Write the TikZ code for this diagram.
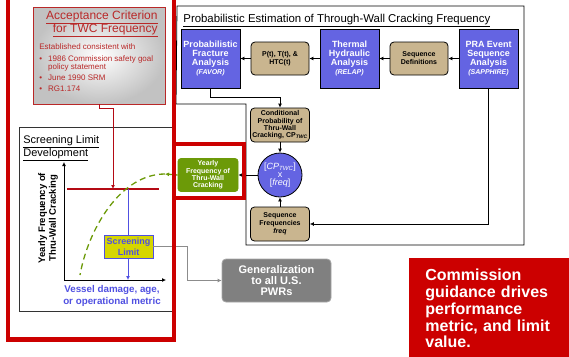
\documentclass[tikz,border=0pt]{standalone}
\usepackage{fontspec}
\setmainfont{Liberation Sans}
\usetikzlibrary{positioning, arrows.meta}
\definecolor{nrcblue}{RGB}{100,100,226}
\definecolor{nrctan}{RGB}{201,181,143}
\definecolor{nrcgreen}{RGB}{108,154,8}
\definecolor{nrcred}{RGB}{204,0,0}
\definecolor{limred}{RGB}{180,10,20}
\definecolor{accred}{RGB}{185,40,40}
\definecolor{limblue}{RGB}{80,80,225}
\definecolor{limyellow}{RGB}{214,214,0}
\definecolor{gengray}{RGB}{128,128,128}
\newcommand{\fs}[2]{\fontsize{#1}{#2}\selectfont}

\begin{document}
\begin{tikzpicture}[x=1pt,y=-1pt,node distance=69.5pt,on grid,line width=0.8pt,
  >={Latex[length=4pt,width=4pt]},
  analysis/.style={draw=black,fill=nrcblue,text=white,minimum width=59pt,minimum height=59pt,
    inner sep=0pt,align=center,font=\bfseries\fs{9}{9}},
  data/.style={draw=black,fill=nrctan,rounded corners=4pt,minimum width=58pt,minimum height=33pt,
    inner sep=0pt,align=center,font=\bfseries\fs{7}{8}},
  frame/.style={nrcred,line width=4.5pt},
  label/.style={inner sep=0pt,align=left}]
\useasboundingbox (0,0) rectangle (569,356);

% outlines
\draw (177,6) -- (524,6) -- (524,245) -- (246,245) -- (246,104) -- (176,104) -- cycle;
\draw[black!80] (19,127) rectangle (174,311);
\node[label,anchor=base west,font=\fs{11.4}{13}] (probtitle) at (183,22.5)
  {\underline{Probabilistic Estimation of Through-Wall Cracking Frequency}};

% top row
\node[analysis] (favor) at (210.5,58.5) {Probabilistic\\Fracture\\Analysis\\{\itshape\fs{7}{10}(FAVOR)}};
\node[data] (ptt) [right=of favor] {P(t), T(t), \&\\HTC(t)};
\node[analysis] (relap) [right=of ptt] {Thermal\\Hydraulic\\Analysis\\{\itshape\fs{7}{10}(RELAP)}};
\node[data] (seqdef) [right=of relap] {Sequence\\Definitions};
\node[analysis] (pra) [right=of seqdef] {PRA Event\\Sequence\\Analysis\\{\itshape\fs{7}{10}(SAPPHIRE)}};

\node[data,minimum width=59pt,minimum height=34pt,font=\bfseries\fs{7}{7.2}] (cond) [below=66.5pt of ptt]
  {Conditional\\Probability of\\Thru-Wall\\Cracking, CP\textsubscript{\itshape TWC}};
\node[circle,draw=black,fill=nrcblue,text=white,minimum size=44pt,inner sep=0pt,align=center,
  font=\fs{9}{8}] (circ) [below=50pt of cond]
  {[\textit{CP}\textsubscript{\itshape TWC}]\\x\\{}[\textit{freq}]};
\node[data,minimum width=59pt,minimum height=34pt] (seqfreq) [below=49pt of circ]
  {Sequence\\Frequencies\\\textit{freq}};
\node[fill=nrcgreen,draw=nrcgreen,rounded corners=3pt,text=white,minimum width=60pt,minimum height=33pt,
  inner sep=0pt,align=center,font=\bfseries\fs{7}{7.4}] (yearly) [left=72pt of circ]
  {Yearly\\Frequency of\\Thru-Wall\\Cracking};

\path[->]
  (pra) edge (seqdef)
  (seqdef) edge (relap)
  (relap) edge (ptt)
  (ptt) edge (favor)
  (cond) edge (circ)
  (seqfreq) edge (circ)
  (circ) edge (yearly);
\draw[->] (favor.south) -- ++(0,9) -| (cond.north);
\draw[->] (pra.south) |- (seqfreq.east);

% acceptance criterion
\node[draw=accred,shading=radial,inner color=white,outer color=black!24,minimum width=132pt,
  minimum height=97pt,inner sep=0pt] (accept) at (99,55.5) {};
\node[label,anchor=north east,align=right,text=accred,font=\fs{12}{13.3}] (acctitle) at (158,10)
  {\underline{Acceptance Criterion}\\\underline{for TWC Frequency}};
\node[label,anchor=north west,text=accred,font=\fs{8}{8}] (basis) at (39,43)
  {\begin{tabular}{@{}l@{\hspace{6pt}}l@{}}
   \multicolumn{2}{@{}l}{Established consistent with}\\[4pt]
   \textbullet & 1986 Commission safety goal\\
               & policy statement\\[3pt]
   \textbullet & June 1990 SRM\\[3pt]
   \textbullet & RG1.174
   \end{tabular}};

% screening limit plot
\node[label,anchor=north west,font=\fs{11}{12}] (scrtitle) at (23,135)
  {\underline{Screening Limit}\\\underline{Development}};
\coordinate (origin) at (64,280);
\coordinate (lim) at (113,189);
\coordinate (limL) at (67,189);
\coordinate (limR) at (159,189);
\coordinate (cross) at (128,189);
\coordinate (ctop) at (165,174);
\coordinate (cbot) at (80,275);
\draw[->] (origin) -- (64,162);
\draw[->] (origin) -- (166,280);
\node[rotate=90,align=center,font=\bfseries\fs{9.5}{10.7}] (ylab) at (48,218)
  {Yearly Frequency of\\Thru-Wall Cracking};
\node[align=center,text=limblue,font=\bfseries\fs{9.8}{11.7}] (xlab) at (112,296)
  {Vessel damage, age,\\or operational metric};
\draw[limred,line width=1.1pt] (limL) -- (limR);
\draw[limred,->] (accept.south) -- ++(0,4) -| (lim);
\draw[limblue,->] (cross) -- (cross |- origin);
\draw[nrcgreen,line width=1.3pt,dash pattern=on 6pt off 4pt] (ctop) .. controls (120,174) and (88,230) .. (cbot);
\draw[nrcgreen,line width=1.3pt,->] (yearly.west) -- (ctop);
\node[draw=limblue,fill=limyellow,text=limblue,minimum width=49pt,minimum height=23pt,inner sep=0pt,
  align=center,font=\bfseries\fs{9}{11}] (screen) at (128.5,246.5) {Screening\\Limit};

% generalization
\node[fill=gengray,draw=black!35,rounded corners=4pt,text=white,minimum width=109pt,minimum height=43pt,
  inner sep=0pt,align=center,font=\bfseries\fs{11}{10.7}] (gen) at (276.5,280.5)
  {Generalization\\to all U.S.\\PWRs};
\draw[black!45,->] (screen.east) -- ++(34,0) |- (gen.west);

% red frames
\draw[frame] (8,-10) -- (8,339.5) -- (174,339.5) -- (174,-10);
\draw[frame,line width=4pt] (174,143.7) rectangle (244,197.7);

\node[anchor=north west,fill=nrcred,text=white,text width=135pt,align=left,inner xsep=16pt,
  inner ysep=11pt,font=\bfseries\fs{16}{16.7}] (note) at (409,258)
  {Commission\\guidance drives\\performance\\metric, and limit\\value.};
\end{tikzpicture}
\end{document}
